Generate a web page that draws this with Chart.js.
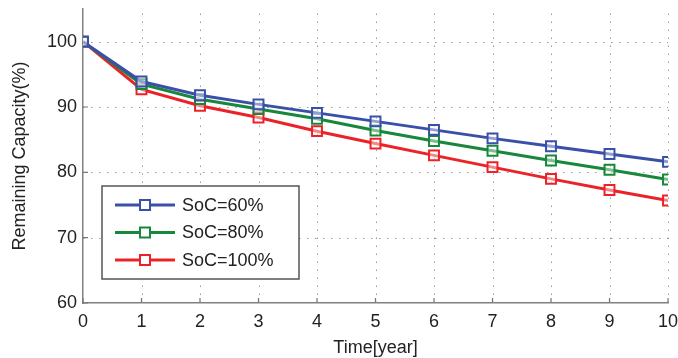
<!DOCTYPE html>
<html>
<head>
<meta charset="utf-8">
<script src="https://cdn.jsdelivr.net/npm/chart.js@4.4.0/dist/chart.umd.min.js"></script>
<style>
  html,body{margin:0;padding:0;background:#fff;}
  #wrap{width:678px;height:358px;}
</style>
</head>
<body>
<div id="wrap"><canvas id="myChart" width="678" height="358"></canvas></div>
<script>
var years = [0, 1, 2, 3, 4, 5, 6, 7, 8, 9, 10];
var soc60 = [100, 93.9, 91.8, 90.4, 89.1, 87.8, 86.5, 85.2, 84.0, 82.8, 81.6];
var soc80 = [100, 93.5, 91.2, 89.7, 88.2, 86.4, 84.8, 83.3, 81.8, 80.4, 78.9];
var soc100 = [100, 92.7, 90.2, 88.4, 86.3, 84.4, 82.6, 80.8, 79.0, 77.3, 75.7];
var seriesNames = ["SoC=60%", "SoC=80%", "SoC=100%"];
var seriesColors = ["#3a50a8", "#17873b", "#ec2229"];
var yTicks = [60, 70, 80, 90, 100];

var FONT = '"Liberation Sans", Arial, sans-serif';

function pts(vals){
    return years.map(function(x, i){ return {x: x, y: vals[i]}; });
}

function ds(i, vals){
    return {
        label: seriesNames[i],
        data: pts(vals),
        borderColor: seriesColors[i],
        backgroundColor: seriesColors[i],
        borderWidth: 3,
        pointStyle: 'rect',
        pointRadius: 7,
        pointBorderWidth: 2,
        pointBorderColor: seriesColors[i],
        pointBackgroundColor: 'rgba(255,255,255,0.45)',
        tension: 0
    };
}

// dotted grid + small inward tick marks like matlab
var matGrid = {
    id: 'matGrid',
    beforeDatasetsDraw: function(chart){
        var ctx = chart.ctx, a = chart.chartArea;
        var xs = chart.scales.x, ys = chart.scales.y;
        ctx.save();
        ctx.strokeStyle = '#999';
        ctx.lineWidth = 1;
        ctx.setLineDash([1.5, 6.5]);
        ctx.beginPath();
        years.forEach(function(v){
            if (v === 0) return;
            var px = Math.round(xs.getPixelForValue(v)) + 0.5;
            ctx.moveTo(px, a.bottom);
            ctx.lineTo(px, a.top);
        });
        yTicks.forEach(function(v){
            if (v === 60) return;
            var py = Math.round(ys.getPixelForValue(v)) + 0.5;
            ctx.moveTo(a.left, py);
            ctx.lineTo(a.right, py);
        });
        ctx.stroke();
        ctx.setLineDash([]);
        ctx.strokeStyle = '#777';
        ctx.lineWidth = 1.2;
        ctx.beginPath();
        years.forEach(function(v){
            var px = xs.getPixelForValue(v);
            ctx.moveTo(px, a.bottom);
            ctx.lineTo(px, a.bottom - 5);
        });
        yTicks.forEach(function(v){
            var py = ys.getPixelForValue(v);
            ctx.moveTo(a.left, py);
            ctx.lineTo(a.left + 5, py);
        });
        ctx.stroke();
        ctx.restore();
    }
};

// legend box inside the plot, lower left
var boxLegend = {
    id: 'boxLegend',
    afterDraw: function(chart){
        var ctx = chart.ctx;
        var x0 = 102, y0 = 186, w = 197, h = 93;
        ctx.save();
        ctx.fillStyle = '#fff';
        ctx.fillRect(x0, y0, w, h);
        ctx.strokeStyle = '#555';
        ctx.lineWidth = 1.5;
        ctx.strokeRect(x0, y0, w, h);
        chart.data.datasets.forEach(function(d, i){
            var cy = 205 + i * 27.5;
            ctx.strokeStyle = d.borderColor;
            ctx.lineWidth = 3;
            ctx.beginPath();
            ctx.moveTo(115, cy);
            ctx.lineTo(175, cy);
            ctx.stroke();
            ctx.fillStyle = '#fff';
            ctx.fillRect(140, cy - 5, 10, 10);
            ctx.lineWidth = 2;
            ctx.strokeRect(140, cy - 5, 10, 10);
            ctx.fillStyle = '#222';
            ctx.font = '18px ' + FONT;
            ctx.textBaseline = 'middle';
            ctx.fillText(d.label, 182, cy + 1);
        });
        ctx.restore();
    }
};

var ctx = document.getElementById("myChart").getContext("2d");
var myChart = new Chart(ctx, {
    type: 'line',
    data: {
        datasets: [ds(0, soc60), ds(1, soc80), ds(2, soc100)]
    },
    options: {
        responsive: false,
        animation: false,
        layout: {padding: {top: 8, right: 10, left: 0, bottom: 0}},
        plugins: {legend: {display: false}, tooltip: {enabled: false}},
        scales: {
            x: {
                type: 'linear',
                min: 0, max: 10,
                ticks: {stepSize: 1, padding: 8, color: '#222', font: {family: FONT, size: 18}},
                grid: {display: false, drawTicks: false},
                border: {display: true, color: '#808080', width: 1.5},
                title: {display: true, text: 'Time[year]', color: '#222', font: {family: FONT, size: 18}, padding: {top: 0, bottom: -1}},
                afterFit: function(s){ s.height = 55; s.paddingLeft = 0; s.paddingRight = 0; }
            },
            y: {
                min: 60, max: 105,
                afterBuildTicks: function(s){
                    s.ticks = yTicks.map(function(v){ return {value: v}; });
                },
                ticks: {padding: 6, color: '#222', font: {family: FONT, size: 18}},
                grid: {display: false, drawTicks: false},
                border: {display: true, color: '#808080', width: 1.5},
                title: {display: true, text: 'Remaining Capacity(%)', color: '#222', font: {family: FONT, size: 18}, padding: {top: 9, bottom: 0}},
                afterFit: function(s){ s.width = 83; s.paddingTop = 0; s.paddingBottom = 0; }
            }
        }
    },
    plugins: [matGrid, boxLegend]
});
</script>
</body>
</html>
